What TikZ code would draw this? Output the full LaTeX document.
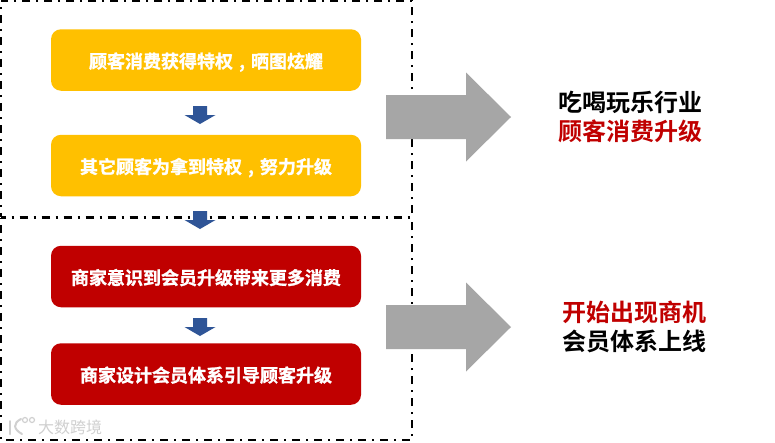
\documentclass[tikz,border=0pt]{standalone}
\usepackage{fontspec}
\setmainfont{Noto Sans CJK SC}
\newfontfamily\cjkb{Noto Sans CJK SC Bold}
\newfontfamily\cjkh[FakeBold=1.2]{Noto Sans CJK SC Bold}
\newcommand{\widecomma}{\makebox[18pt][c]{,}}
\definecolor{ambr}{HTML}{FFC000}
\definecolor{dred}{HTML}{C00000}
\definecolor{blu}{HTML}{2F5597}
\definecolor{gry}{HTML}{A6A6A6}
\definecolor{wm}{HTML}{D0D0D0}
\tikzset{
  zone/.style={draw=black,line width=1.6pt,dash pattern=on 8pt off 6pt on 2pt off 6pt},
  stepbox/.style={rounded corners=10pt,minimum width=310pt,minimum height=61.5pt,inner sep=0pt,text=white,text height=16pt,text depth=0pt,font=\cjkh\fontsize{18pt}{20pt}\selectfont},
  yellowbox/.style={stepbox,fill=ambr},
  redbox/.style={stepbox,fill=dred},
  sidetext/.style={inner sep=0pt,font=\cjkb\fontsize{24pt}{29pt}\selectfont,align=center},
  wmark/.style={inner sep=0pt,text=wm,font=\fontsize{16pt}{16pt}\selectfont},
}
\newcommand{\downarrowat}[2]{\fill[blu] (#1-7,#2-9) -- (#1+7,#2-9) -- (#1+7,#2) -- (#1+15.5,#2) -- (#1,#2+9) -- (#1-15.5,#2) -- (#1-7,#2) -- cycle;}
\newcommand{\rightarrowat}[1]{\fill[gry] (386,#1-22) -- (466,#1-22) -- (466,#1-44.5) -- (511,#1) -- (466,#1+44.5) -- (466,#1+22) -- (386,#1+22) -- cycle;}
\begin{document}
\begin{tikzpicture}[x=1pt,y=-1pt]
\useasboundingbox (0,0) rectangle (775,442);
\fill[white] (0,0) rectangle (775,442);
\draw[zone,dash phase=8pt] (1,1) -- (1,216.5) -- (412,216.5) -- (412,1) -- cycle;
\draw[zone,dash phase=15pt] (1,218) -- (1,440) -- (412,440) -- (412,218) -- cycle;
\node[yellowbox] (a) at (206,60) {顾客消费获得特权\widecomma 晒图炫耀};
\node[yellowbox] (b) at (206,165.5) {其它顾客为拿到特权\widecomma 努力升级};
\node[redbox] (c) at (206,276.5) {商家意识到会员升级带来更多消费};
\node[redbox] (d) at (206,374) {商家设计会员体系引导顾客升级};
\downarrowat{200}{115}
\downarrowat{200}{220}
\downarrowat{200}{327}
\rightarrowat{117}
\rightarrowat{327}
\node[sidetext] (t1) at (630.5,116.5) {吃喝玩乐行业\\[0pt]\textcolor{dred}{顾客消费升级}};
\node[sidetext] (t2) at (634,327) {\textcolor{dred}{开始出现商机}\\[0pt]会员体系上线};
\node[wmark] (w) at (70,427) {大数跨境};
\draw[wm,line width=2pt,line cap=round] (10,421) -- (10,434);
\draw[wm,line width=2pt,line cap=round] (21,419) .. controls (13,423) and (13,429) .. (22,434);
\draw[wm,line width=1.2pt] (25,420) circle (2.5);
\draw[wm,line width=1.2pt] (32,420) circle (2.5);
\end{tikzpicture}
\end{document}
